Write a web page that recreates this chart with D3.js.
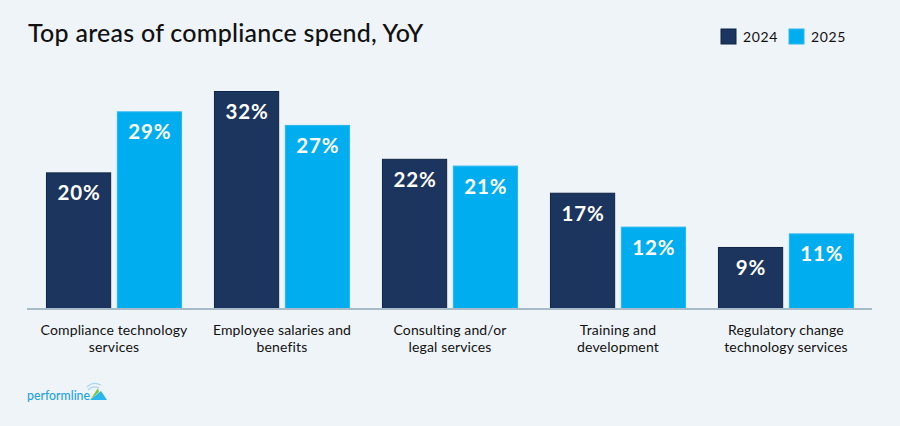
<!DOCTYPE html>
<meta charset="utf-8">
<style>
body { margin: 0; background: #eff4f8; }
svg { display: block; font-family: "Lato", "Open Sans", sans-serif; }
.title { font-size: 25px; font-weight: 500; fill: #111; letter-spacing: 0.25px; }
.legend text { font-size: 14px; fill: #111; letter-spacing: 0.6px; }
.value { font-size: 20.5px; font-weight: 700; fill: #fff; letter-spacing: 0.9px; }
.cat { font-size: 14px; fill: #111; letter-spacing: 0.15px; }
.baseline { stroke: #a9bbc7; stroke-width: 2px; }
</style>
<div id="chart"></div>
<script src="https://d3js.org/d3.v7.min.js"></script>
<script>

var categories = [
  ["Compliance technology", "services"],
  ["Employee salaries and", "benefits"],
  ["Consulting and/or", "legal services"],
  ["Training and", "development"],
  ["Regulatory change", "technology services"]
];
var years = ["2024", "2025"];
var values2024 = [20, 32, 22, 17, 9];
var values2025 = [29, 27, 21, 12, 11];

var width = 900, height = 426;
var colors = d3.scaleOrdinal().domain(years).range(["#1c355e", "#00aeef"]);
var strokes = d3.scaleOrdinal().domain(years).range(["#0f2547", "#2bb7ee"]);

var svg = d3.select("#chart").append("svg")
  .attr("width", width)
  .attr("height", height);

svg.append("rect").attr("width", width).attr("height", height).attr("fill", "#eff4f8");

// title
svg.append("text")
  .attr("class", "title")
  .attr("x", 28)
  .attr("y", 42)
  .text("Top areas of compliance spend, YoY");

// scales
var x0 = d3.scaleBand()
  .domain(d3.range(categories.length))
  .range([30, 870])
  .paddingInner(0.19)
  .paddingOuter(0.095);

var x1 = d3.scaleBand()
  .domain(years)
  .range([0, x0.bandwidth()])
  .paddingInner(0.08);

var y = d3.scaleLinear()
  .domain([0, 32])
  .range([308, 91]);

var rows = categories.map(function(c, i) {
  return { i: i, label: c, vals: [
    { year: "2024", v: values2024[i] },
    { year: "2025", v: values2025[i] }
  ]};
});

var groups = svg.selectAll(".group")
  .data(rows)
  .enter().append("g")
  .attr("class", "group")
  .attr("transform", function(d) { return "translate(" + x0(d.i) + ",0)"; });

groups.selectAll("rect")
  .data(function(d) { return d.vals; })
  .enter().append("rect")
  .attr("x", function(d) { return x1(d.year) + 0.5; })
  .attr("y", function(d) { return y(d.v) + 0.5; })
  .attr("width", x1.bandwidth() - 1)
  .attr("height", function(d) { return y(0) - y(d.v); })
  .attr("fill", function(d) { return colors(d.year); })
  .attr("stroke", function(d) { return strokes(d.year); })
  .attr("stroke-width", 1);

groups.selectAll(".value")
  .data(function(d) { return d.vals; })
  .enter().append("text")
  .attr("class", "value")
  .attr("text-anchor", "middle")
  .attr("x", function(d) { return x1(d.year) + x1.bandwidth() / 2 + 0.5; })
  .attr("y", function(d) { return y(d.v) + 28; })
  .text(function(d) { return d.v + "%"; });

// baseline
svg.append("line")
  .attr("class", "baseline")
  .attr("x1", 27)
  .attr("x2", 872)
  .attr("y1", y(0) + 1)
  .attr("y2", y(0) + 1);

// category labels
groups.append("text")
  .attr("class", "cat")
  .attr("text-anchor", "middle")
  .attr("x", x0.bandwidth() / 2)
  .attr("y", 335)
  .selectAll("tspan")
  .data(function(d) { return d.label; })
  .enter().append("tspan")
  .attr("x", x0.bandwidth() / 2)
  .attr("dy", function(d, i) { return i ? 17 : 0; })
  .text(function(d) { return d; });

// legend
var legend = svg.append("g")
  .attr("class", "legend")
  .selectAll("g")
  .data(years)
  .enter().append("g")
  .attr("transform", function(d, i) { return "translate(" + (721 + i * 68) + ",29)"; });
legend.append("rect")
  .attr("width", 15)
  .attr("height", 15)
  .attr("fill", function(d) { return colors(d); })
  .attr("stroke", function(d) { return strokes(d); });
legend.append("text")
  .attr("x", 22)
  .attr("y", 13)
  .text(function(d) { return d; });

// logo
var logo = svg.append("g").attr("transform", "translate(27,400)");
logo.append("text")
  .attr("font-size", 14)
  .attr("font-weight", 500)
  .attr("fill", "#1fa3e0")
  .attr("textLength", 63)
  .attr("lengthAdjust", "spacingAndGlyphs")
  .text("performline");
logo.append("path")
  .attr("d", "M63,0 L80,0 L74,-9 Z")
  .attr("fill", "#29b6ee");
logo.append("path")
  .attr("d", "M63,0 L71,-12 L72,-8 Z")
  .attr("fill", "#7ac943");
logo.append("path")
  .attr("d", "M61,-10 Q66,-15 72,-12 M60,-13 Q66,-19 74,-15")
  .attr("fill", "none")
  .attr("stroke", "#a9d8f2")
  .attr("stroke-width", 1.2);

</script>
